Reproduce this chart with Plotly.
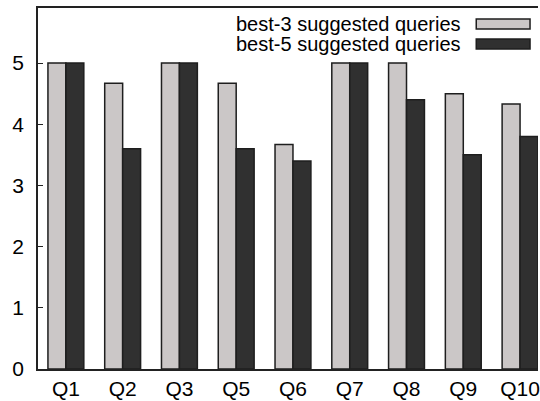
import plotly.graph_objects as go

# Query labels and user ratings for the two suggestion settings
queries = ["Q1", "Q2", "Q3", "Q5", "Q6", "Q7", "Q8", "Q9", "Q10"]
best3 = [5.0, 4.67, 5.0, 4.67, 3.67, 5.0, 5.0, 4.5, 4.33]
best5 = [5.0, 3.6, 5.0, 3.6, 3.4, 5.0, 4.4, 3.5, 3.8]
series_names = ["best-3 suggested queries", "best-5 suggested queries"]
y_ticks = [0, 1, 2, 3, 4, 5]

LIGHT = "#cbc7c7"
DARK = "#303030"
EDGE = "#1e1e1e"
FONT = "Liberation Sans, Arial, Helvetica, sans-serif"

fig = go.Figure()
for name, vals, col in [(series_names[0], best3, LIGHT), (series_names[1], best5, DARK)]:
    fig.add_trace(go.Bar(
        x=queries, y=vals, name=name,
        marker=dict(color=col, line=dict(color=EDGE, width=1.5)),
        showlegend=False,
    ))

W, H = 540, 401
L, R, T, B = 38, 0, 8, 32
pw, ph = W - L - R, H - T - B

def px_x(x):
    return (x - L) / pw

def px_y(y):
    return (H - B - y) / ph

# Hand-drawn key in the upper right (text right-aligned, long swatch after it)
shapes = []
annotations = []
for i, (name, col) in enumerate([(series_names[0], LIGHT), (series_names[1], DARK)]):
    cy = 24 + 20 * i
    annotations.append(dict(
        x=px_x(465), y=px_y(cy), xref="paper", yref="paper",
        xanchor="right", yanchor="middle", showarrow=False,
        text=name, font=dict(family=FONT, size=20, color="#000"),
    ))
    shapes.append(dict(
        type="rect", xref="paper", yref="paper",
        x0=px_x(478), x1=px_x(532), y0=px_y(cy + 5), y1=px_y(cy - 5),
        fillcolor=col, line=dict(color=EDGE, width=1.5),
    ))

fig.update_layout(
    width=W, height=H,
    margin=dict(l=L, r=R, t=T, b=B, pad=0),
    paper_bgcolor="white", plot_bgcolor="white",
    barmode="group", bargap=0.368, bargroupgap=0,
    font=dict(family=FONT, size=21, color="#000"),
    shapes=shapes, annotations=annotations,
    xaxis=dict(
        range=[-0.491, 8.316], showgrid=False, zeroline=False,
        showline=True, linecolor="#222", linewidth=1.5, mirror=True,
        ticks="", tickfont=dict(family=FONT, size=21, color="#000"),
    ),
    yaxis=dict(
        range=[0, 5.9], tickvals=y_ticks, showgrid=False, zeroline=False,
        showline=True, linecolor="#222", linewidth=1.5, mirror=False,
        ticks="inside", ticklen=5, tickwidth=1.2, tickcolor="#222",
        ticklabelstandoff=8,
        tickfont=dict(family=FONT, size=21, color="#000"),
    ),
)

fig.write_html("out.html")
